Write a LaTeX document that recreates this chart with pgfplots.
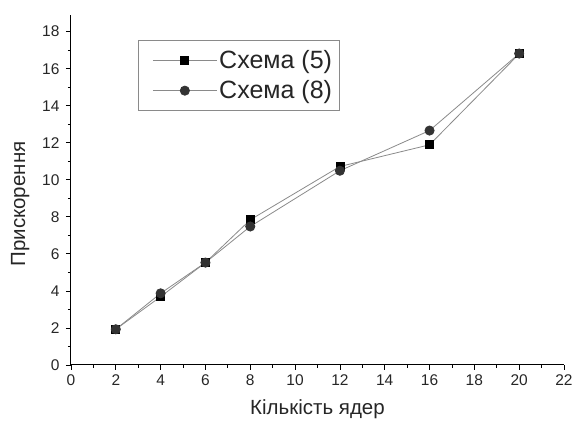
\documentclass[border=0pt]{standalone}
\usepackage{pgfplots}
\pgfplotsset{compat=1.18}
\usepackage{fontspec}
\setmainfont{Liberation Sans}
\definecolor{lgray}{HTML}{8A8A8A}
\definecolor{dgray}{HTML}{333333}
\begin{document}
\begin{tikzpicture}
\useasboundingbox (-71pt,-58pt) rectangle (503pt,365pt);
\begin{axis}[
  at={(0pt,0pt)}, anchor=origin,
  scale only axis, width=493pt, height=350pt,
  xmin=0, xmax=22, ymin=0, ymax=18.9,
  axis x line*=bottom, axis y line*=left,
  axis line style={black, line width=1pt, -},
  xtick={0,2,...,22}, ytick={0,2,...,18},
  minor xtick={1,3,...,21}, minor ytick={1,3,...,17},
  tick align=outside, major tick length=5pt, minor tick length=3pt,
  tick style={black, line width=0.8pt},
  /pgf/number format/assume math mode=true,
  ticklabel style={font=\fontsize{15.5}{18}\selectfont, text=black!85},
  yticklabel style={xshift=-3pt},
  xticklabel style={yshift=-1pt},
  xlabel={Кількість ядер}, ylabel={Прискорення},
  label style={font=\fontsize{20.5}{24}\selectfont, text=black!85},
  xlabel style={yshift=-7pt},
  ylabel style={yshift=6pt, xshift=-14pt},
  legend style={at={(0.136,0.929)}, anchor=north west, draw=lgray, line width=0.8pt,
    font=\fontsize{25}{28}\selectfont, text=black!85, row sep=7pt, inner xsep=5pt, inner ysep=8pt},
  legend cell align=left,
  legend image code/.code={\path (-9pt,0pt); \draw[mark repeat=2, mark phase=2] plot coordinates {(0pt,0pt) (32pt,0pt) (64pt,0pt)};},
  clip=false,
]
\addplot[color=lgray, line width=0.8pt, mark=square*, mark size=4pt, mark options={fill=black, draw=black, solid}]
  coordinates {(2,1.93) (4,3.69) (6,5.53) (8,7.84) (12,10.72) (16,11.89) (20,16.8)};
\addlegendentry{Схема (5)}
\addplot[color=lgray, line width=0.8pt, mark=*, mark size=4.6pt, mark options={fill=dgray, draw=dgray, solid}]
  coordinates {(2,1.93) (4,3.87) (6,5.53) (8,7.48) (12,10.49) (16,12.66) (20,16.82)};
\addlegendentry{Схема (8)}
\end{axis}
\end{tikzpicture}
\end{document}
